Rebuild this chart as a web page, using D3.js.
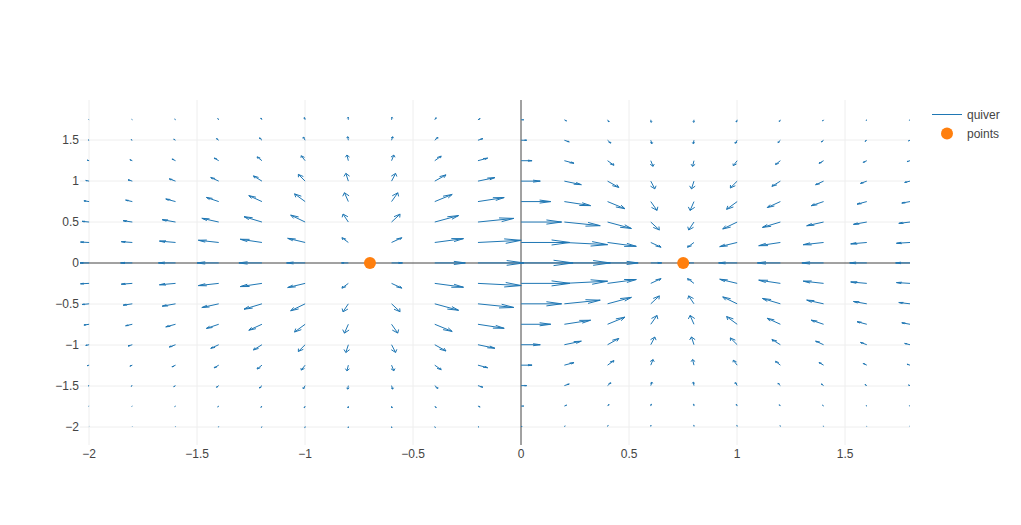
<!DOCTYPE html>
<html>
<head>
<meta charset="utf-8">
<script src="https://cdn.jsdelivr.net/npm/d3@7"></script>
<style>
  html, body { margin: 0; padding: 0; background: #fff; }
  svg { display: block; font-family: "Liberation Sans", Arial, sans-serif; }
</style>
</head>
<body>
<div id="chart"></div>
<script>
// ---------- data ----------
const xGrid = [-2, -1.8, -1.6, -1.4, -1.2, -1, -0.8, -0.6, -0.4, -0.2, 0, 0.2, 0.4, 0.6, 0.8, 1, 1.2, 1.4, 1.6, 1.8];
const yGrid = [-2, -1.75, -1.5, -1.25, -1, -0.75, -0.5, -0.25, 0, 0.25, 0.5, 0.75, 1, 1.25, 1.5, 1.75];

// u component, one row per yGrid value, one column per xGrid value
const uRows = [
  [-0.0031,-0.0040,-0.0058,-0.0074,-0.0078,-0.0063,-0.0023,0.0037,0.0104,0.0156,0.0176,0.0156,0.0104,0.0037,-0.0023,-0.0063,-0.0078,-0.0074,-0.0058,-0.0049],
  [-0.0079,-0.0102,-0.0148,-0.0188,-0.0200,-0.0161,-0.0059,0.0095,0.0265,0.0399,0.0449,0.0399,0.0265,0.0095,-0.0059,-0.0161,-0.0200,-0.0188,-0.0148,-0.0124],
  [-0.0178,-0.0229,-0.0334,-0.0423,-0.0450,-0.0362,-0.0134,0.0213,0.0597,0.0898,0.1013,0.0898,0.0597,0.0213,-0.0134,-0.0362,-0.0450,-0.0423,-0.0334,-0.0280],
  [-0.0355,-0.0456,-0.0664,-0.0842,-0.0894,-0.0721,-0.0266,0.0424,0.1187,0.1786,0.2014,0.1786,0.1187,0.0424,-0.0266,-0.0721,-0.0894,-0.0842,-0.0664,-0.0557],
  [-0.0623,-0.0801,-0.1165,-0.1477,-0.1570,-0.1265,-0.0467,0.0745,0.2083,0.3135,0.3535,0.3135,0.2083,0.0745,-0.0467,-0.1265,-0.1570,-0.1477,-0.1165,-0.0978],
  [-0.0965,-0.1240,-0.1805,-0.2288,-0.2431,-0.1959,-0.0723,0.1153,0.3226,0.4855,0.5474,0.4855,0.3226,0.1153,-0.0723,-0.1959,-0.2431,-0.2288,-0.1805,-0.1515],
  [-0.1319,-0.1695,-0.2467,-0.3127,-0.3323,-0.2678,-0.0988,0.1577,0.4409,0.6637,0.7483,0.6637,0.4409,0.1577,-0.0988,-0.2678,-0.3323,-0.3127,-0.2467,-0.2071],
  [-0.1591,-0.2045,-0.2976,-0.3772,-0.4008,-0.3230,-0.1191,0.1902,0.5318,0.8005,0.9026,0.8005,0.5318,0.1902,-0.1191,-0.3230,-0.4008,-0.3772,-0.2976,-0.2498],
  [-0.1693,-0.2176,-0.3168,-0.4016,-0.4267,-0.3438,-0.1268,0.2024,0.5661,0.8521,0.9608,0.8521,0.5661,0.2024,-0.1268,-0.3438,-0.4267,-0.4016,-0.3168,-0.2660],
  [-0.1591,-0.2045,-0.2976,-0.3772,-0.4008,-0.3230,-0.1191,0.1902,0.5318,0.8005,0.9026,0.8005,0.5318,0.1902,-0.1191,-0.3230,-0.4008,-0.3772,-0.2976,-0.2498],
  [-0.1319,-0.1695,-0.2467,-0.3127,-0.3323,-0.2678,-0.0988,0.1577,0.4409,0.6637,0.7483,0.6637,0.4409,0.1577,-0.0988,-0.2678,-0.3323,-0.3127,-0.2467,-0.2071],
  [-0.0965,-0.1240,-0.1805,-0.2288,-0.2431,-0.1959,-0.0723,0.1153,0.3226,0.4855,0.5474,0.4855,0.3226,0.1153,-0.0723,-0.1959,-0.2431,-0.2288,-0.1805,-0.1515],
  [-0.0623,-0.0801,-0.1165,-0.1477,-0.1570,-0.1265,-0.0467,0.0745,0.2083,0.3135,0.3535,0.3135,0.2083,0.0745,-0.0467,-0.1265,-0.1570,-0.1477,-0.1165,-0.0978],
  [-0.0355,-0.0456,-0.0664,-0.0842,-0.0894,-0.0721,-0.0266,0.0424,0.1187,0.1786,0.2014,0.1786,0.1187,0.0424,-0.0266,-0.0721,-0.0894,-0.0842,-0.0664,-0.0557],
  [-0.0178,-0.0229,-0.0334,-0.0423,-0.0450,-0.0362,-0.0134,0.0213,0.0597,0.0898,0.1013,0.0898,0.0597,0.0213,-0.0134,-0.0362,-0.0450,-0.0423,-0.0334,-0.0280],
  [-0.0079,-0.0102,-0.0148,-0.0188,-0.0200,-0.0161,-0.0059,0.0095,0.0265,0.0399,0.0449,0.0399,0.0265,0.0095,-0.0059,-0.0161,-0.0200,-0.0188,-0.0148,-0.0124]
];

// v component, same layout
const vRows = [
  [-0.0052,-0.0100,-0.0176,-0.0281,-0.0405,-0.0523,-0.0600,-0.0596,-0.0485,-0.0273,0,0.0273,0.0485,0.0596,0.0600,0.0523,0.0405,0.0281,0.0176,0.0100],
  [-0.0080,-0.0153,-0.0269,-0.0429,-0.0619,-0.0801,-0.0918,-0.0911,-0.0742,-0.0418,0,0.0418,0.0742,0.0911,0.0918,0.0801,0.0619,0.0429,0.0269,0.0153],
  [-0.0149,-0.0287,-0.0504,-0.0803,-0.1157,-0.1498,-0.1717,-0.1704,-0.1388,-0.0782,0,0.0782,0.1388,0.1704,0.1717,0.1498,0.1157,0.0803,0.0504,0.0287],
  [-0.0240,-0.0463,-0.0812,-0.1294,-0.1866,-0.2414,-0.2768,-0.2747,-0.2237,-0.1261,0,0.1261,0.2237,0.2747,0.2768,0.2414,0.1866,0.1294,0.0812,0.0463],
  [-0.0330,-0.0635,-0.1114,-0.1776,-0.2560,-0.3312,-0.3798,-0.3769,-0.3069,-0.1730,0,0.1730,0.3069,0.3769,0.3798,0.3312,0.2560,0.1776,0.1114,0.0635],
  [-0.0376,-0.0724,-0.1271,-0.2026,-0.2921,-0.3779,-0.4334,-0.4300,-0.3502,-0.1974,0,0.1974,0.3502,0.4300,0.4334,0.3779,0.2921,0.2026,0.1271,0.0724],
  [-0.0339,-0.0651,-0.1143,-0.1822,-0.2627,-0.3399,-0.3898,-0.3868,-0.3150,-0.1776,0,0.1776,0.3150,0.3868,0.3898,0.3399,0.2627,0.1822,0.1143,0.0651],
  [-0.0203,-0.0390,-0.0684,-0.1091,-0.1572,-0.2034,-0.2333,-0.2315,-0.1885,-0.1063,0,0.1063,0.1885,0.2315,0.2333,0.2034,0.1572,0.1091,0.0684,0.0390],
  [0,0,0,0,0,0,0,0,0,0,0,0,0,0,0,0,0,0,0,0],
  [0.0203,0.0390,0.0684,0.1091,0.1572,0.2034,0.2333,0.2315,0.1885,0.1063,0,-0.1063,-0.1885,-0.2315,-0.2333,-0.2034,-0.1572,-0.1091,-0.0684,-0.0390],
  [0.0339,0.0651,0.1143,0.1822,0.2627,0.3399,0.3898,0.3868,0.3150,0.1776,0,-0.1776,-0.3150,-0.3868,-0.3898,-0.3399,-0.2627,-0.1822,-0.1143,-0.0651],
  [0.0376,0.0724,0.1271,0.2026,0.2921,0.3779,0.4334,0.4300,0.3502,0.1974,0,-0.1974,-0.3502,-0.4300,-0.4334,-0.3779,-0.2921,-0.2026,-0.1271,-0.0724],
  [0.0330,0.0635,0.1114,0.1776,0.2560,0.3312,0.3798,0.3769,0.3069,0.1730,0,-0.1730,-0.3069,-0.3769,-0.3798,-0.3312,-0.2560,-0.1776,-0.1114,-0.0635],
  [0.0240,0.0463,0.0812,0.1294,0.1866,0.2414,0.2768,0.2747,0.2237,0.1261,0,-0.1261,-0.2237,-0.2747,-0.2768,-0.2414,-0.1866,-0.1294,-0.0812,-0.0463],
  [0.0149,0.0287,0.0504,0.0803,0.1157,0.1498,0.1717,0.1704,0.1388,0.0782,0,-0.0782,-0.1388,-0.1704,-0.1717,-0.1498,-0.1157,-0.0803,-0.0504,-0.0287],
  [0.0107,0.0207,0.0363,0.0578,0.0833,0.1078,0.1237,0.1227,0.0999,0.0563,0,-0.0563,-0.0999,-0.1227,-0.1237,-0.1078,-0.0833,-0.0578,-0.0363,-0.0207]
];

const pointsX = [-0.7, 0.75];
const pointsY = [0, 0];

const xTicks = [-2, -1.5, -1, -0.5, 0, 0.5, 1, 1.5];
const xTickLabels = ["\u22122", "\u22121.5", "\u22121", "\u22120.5", "0", "0.5", "1", "1.5"];
const yTicks = [-2, -1.5, -1, -0.5, 0, 0.5, 1, 1.5];
const yTickLabels = ["\u22122", "\u22121.5", "\u22121", "\u22120.5", "0", "0.5", "1", "1.5"];

const seriesNames = ["quiver", "points"];
const seriesColors = ["#1f77b4", "#ff7f0e"];

// ---------- layout ----------
const W = 1021, H = 525;
const L = 80, R = 910, T = 100, B = 445;
const arrowScale = 0.25, headScale = 0.4, headAngle = Math.PI / 9;

const x = d3.scaleLinear().domain([-2.0423, 1.8]).range([L, R]);
const y = d3.scaleLinear().domain([-2.226, 1.992]).range([B, T]);

const svg = d3.select("#chart").append("svg")
  .attr("width", W).attr("height", H);

svg.append("defs").append("clipPath").attr("id", "plotclip")
  .append("rect").attr("x", L).attr("y", T).attr("width", R - L).attr("height", B - T);

// grid
const grid = svg.append("g");
grid.selectAll("line.xg").data(xTicks.filter(d => d !== 0)).enter().append("line")
  .attr("x1", d => Math.round(x(d))).attr("x2", d => Math.round(x(d))).attr("y1", T).attr("y2", B)
  .attr("stroke", "#eee").attr("stroke-width", 1);
grid.selectAll("line.yg").data(yTicks.filter(d => d !== 0)).enter().append("line")
  .attr("x1", L).attr("x2", R).attr("y1", d => Math.round(y(d))).attr("y2", d => Math.round(y(d)))
  .attr("stroke", "#eee").attr("stroke-width", 1);
// zero lines
grid.append("line").attr("x1", Math.round(x(0))).attr("x2", Math.round(x(0))).attr("y1", T).attr("y2", B)
  .attr("stroke", "#444").attr("stroke-width", 1);
grid.append("line").attr("x1", L).attr("x2", R).attr("y1", Math.round(y(0))).attr("y2", Math.round(y(0)))
  .attr("stroke", "#444").attr("stroke-width", 1);

// tick labels
svg.append("g").selectAll("text").data(xTicks).enter().append("text")
  .attr("x", d => x(d)).attr("y", 458)
  .attr("text-anchor", "middle").attr("font-size", 12).attr("fill", "#444")
  .text((d, i) => xTickLabels[i]);
svg.append("g").selectAll("text").data(yTicks).enter().append("text")
  .attr("x", 79).attr("y", d => y(d)).attr("dy", "0.35em")
  .attr("text-anchor", "end").attr("font-size", 12).attr("fill", "#444")
  .text((d, i) => yTickLabels[i]);

// quiver arrows
const arrows = [];
yGrid.forEach((yv, i) => {
  xGrid.forEach((xv, j) => {
    const du = uRows[i][j] * arrowScale, dv = vRows[i][j] * arrowScale;
    const ex = xv + du, ey = yv + dv;
    const len = Math.hypot(du, dv) * headScale;
    const ang = Math.atan2(dv, du);
    const p1 = [ex - len * Math.cos(ang + headAngle), ey - len * Math.sin(ang + headAngle)];
    const p2 = [ex - len * Math.cos(ang - headAngle), ey - len * Math.sin(ang - headAngle)];
    arrows.push({ shaft: [[xv, yv], [ex, ey]], head: [p1, [ex, ey], p2] });
  });
});
const line = d3.line().x(d => x(d[0])).y(d => y(d[1]));
const qg = svg.append("g").attr("clip-path", "url(#plotclip)")
  .attr("fill", "none").attr("stroke", seriesColors[0]).attr("stroke-width", 1);
qg.selectAll("path.shaft").data(arrows).enter().append("path")
  .attr("d", d => line(d.shaft));
qg.selectAll("path.head").data(arrows).enter().append("path")
  .attr("d", d => line(d.head));

// points
svg.append("g").selectAll("circle").data(pointsX).enter().append("circle")
  .attr("cx", d => x(d)).attr("cy", (d, i) => y(pointsY[i])).attr("r", 6)
  .attr("fill", seriesColors[1]);

// legend
const lg = svg.append("g").attr("transform", "translate(927,0)");
lg.append("line").attr("x1", 5).attr("x2", 35).attr("y1", 114.5).attr("y2", 114.5)
  .attr("stroke", seriesColors[0]).attr("stroke-width", 1);
lg.append("circle").attr("cx", 20).attr("cy", 133.5).attr("r", 6).attr("fill", seriesColors[1]);
lg.selectAll("text").data(seriesNames).enter().append("text")
  .attr("x", 40).attr("y", (d, i) => 114.5 + i * 19).attr("dy", "0.35em")
  .attr("font-size", 12).attr("fill", "#444").text(d => d);
</script>
</body>
</html>
